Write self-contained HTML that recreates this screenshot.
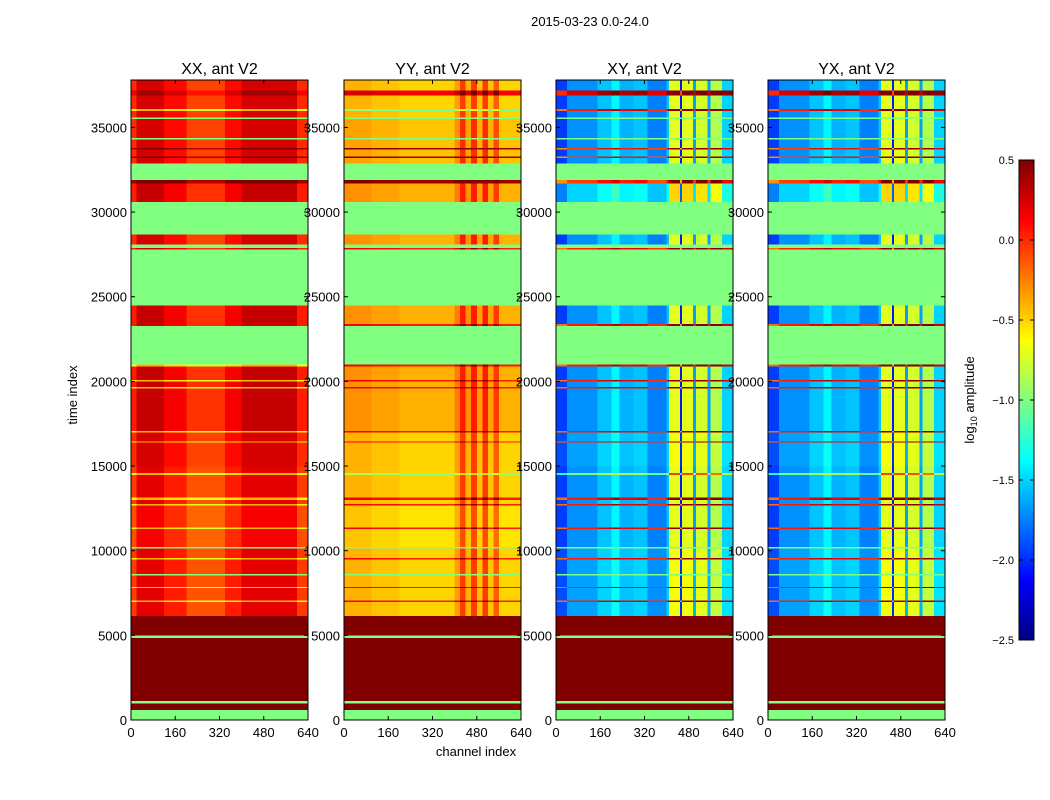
<!DOCTYPE html>
<html><head><meta charset="utf-8"><style>
body{margin:0;background:#fff;}
svg{display:block;font-family:"Liberation Sans",sans-serif;}
</style></head><body>
<svg id="fig" width="1050" height="800" viewBox="0 0 1050 800">
<rect width="1050" height="800" fill="#fff"/>
<text x="590" y="26" font-size="13" text-anchor="middle">2015-03-23 0.0-24.0</text>
<text x="476" y="756" font-size="13" text-anchor="middle">channel index</text>
<text transform="translate(77,395) rotate(-90)" font-size="13" text-anchor="middle">time index</text>
<text transform="translate(974,400) rotate(-90)" font-size="13" text-anchor="middle">log<tspan font-size="9" dy="3">10</tspan><tspan dy="-3"> amplitude</tspan></text>
<g id="panels"></g>
<g id="cbar"></g>
</svg>
<script>
const N = null;
const panelTitles = ["XX, ant V2","YY, ant V2","XY, ant V2","YX, ant V2"];
const xTicks = [0,160,320,480,640];
const yTicks = [0,5000,10000,15000,20000,25000,30000,35000];
const cbTicks = [0.5,0.0,-0.5,-1.0,-1.5,-2.0,-2.5];
const timeMax = 37800;
const chanMax = 640;
const bandStart = [0,600,1000,1150,4850,5000,6150,7000,7080,7800,7880,8550,8650,9500,9580,10150,10250,11300,11400,12700,12780,13000,13150,14500,14600,15000,16400,16480,17000,17100,19600,19700,20000,20100,20900,21000,23300,23400,24500,27800,27900,28100,28700,30600,31700,31900,32900,33200,33300,33700,33800,34300,34400,35500,35600,36000,36100,36900,37200];
const levelXX = [N,1,N,1,N,1, 0,-0.6,0,-0.6,0,N,0,-0.6,0,N, -0.05,-0.6,-0.05,-0.6,0,-0.6,0,-0.6,0,0.05, -0.6,0.05,-0.6,0.1,-0.6,0.1,-0.6,0.1,-0.6,N, 0.1,0.1,N,0.1,N,0.05,N,0.1,0.45,N, 0.05,0.45,0.05,0.45,0.05,N,0.05,N,0.05,-0.6, 0.05,0.2,0.05];
const levelYY = [N,1,N,1,N,1, -0.45,0.1,-0.45,0.1,-0.45,N,-0.45,0.1,-0.45,N, -0.5,0.1,-0.5,0.1,-0.45,0.1,-0.45,-0.9,-0.45,-0.45, 0.1,-0.45,0.1,-0.35,0.1,-0.35,0.1,-0.35,0.1,N, 0.1,-0.35,N,0.1,N,-0.35,N,-0.35,0.45,N, -0.4,0.45,-0.4,0.45,-0.4,N,-0.4,N,-0.45,-1.0, -0.45,0.2,-0.45];
const levelXY = [N,1,N,1,N,1, -1.6,0.1,-1.6,0.1,-1.6,N,-1.6,0.1,-1.6,N, -1.65,0.1,-1.65,0.1,-1.65,0.1,-1.65,-1.0,-1.65,-1.6, 0.1,-1.6,0.1,-1.65,0.1,-1.65,0.1,-1.65,0.1,N, 0.1,-1.65,N,0.1,N,-1.65,N,-1.45,0.0,N, -1.65,0.0,-1.65,0.0,-1.65,N,-1.65,N,-1.65,0.1, -1.65,0.3,-1.65];
const levelYX = [N,1,N,1,N,1, -1.6,0.1,-1.6,0.1,-1.6,N,-1.6,0.1,-1.6,N, -1.65,0.1,-1.65,0.1,-1.65,0.1,-1.65,-1.0,-1.65,-1.6, 0.1,-1.6,0.1,-1.65,0.1,-1.65,0.1,-1.65,0.1,N, 0.1,-1.65,N,0.1,N,-1.65,N,-1.45,0.0,N, -1.65,0.0,-1.65,0.0,-1.65,N,-1.65,N,-1.65,0.1, -1.65,0.3,-1.65];
const colEdgesXX = [0,20,120,200,340,400,600,640];
const colOffXX = [-0.05,0.2,0.05,-0.12,0.05,0.2,-0.05];
const colEdgesYY = [0,100,200,400,420,440,460,480,500,520,540,560,640];
const colOffYY = [0.05,0,-0.05,0.1,0.4,0.05,0.4,0,0.4,0,0.3,-0.05];
const colEdgesXY = [0,40,150,200,230,280,330,400,408,448,456,496,506,548,558,600,640];
const colOffXY = [-0.3,-0.05,0.1,0.25,0.05,0.1,-0.1,0.1,0.95,-0.4,0.95,0,0.9,0,0.8,0.15];
const colEdgesYX = [0,40,150,200,230,280,330,400,408,448,456,496,506,548,558,600,640];
const colOffYX = [-0.3,-0.05,0.1,0.25,0.05,0.1,-0.1,0.1,0.95,-0.4,0.95,0,0.9,0,0.8,0.15];

const levels=[levelXX,levelYY,levelXY,levelYX];
const cEdges=[colEdgesXX,colEdgesYY,colEdgesXY,colEdgesYX];
const cOffs=[colOffXX,colOffYY,colOffXY,colOffYX];
const panelX=[131,344,556,768], PW=177, PT=80, PB=720;
const NS="http://www.w3.org/2000/svg";
function cl(v){return Math.max(0,Math.min(1,v));}
function jet(v){
  if(v===null) return "rgb(128,255,128)";
  const x=cl((v+2.5)/3);
  const r=cl(1.5-Math.abs(4*x-3)), g=cl(1.5-Math.abs(4*x-2)), b=cl(1.5-Math.abs(4*x-1));
  return `rgb(${Math.round(r*255)},${Math.round(g*255)},${Math.round(b*255)})`;
}
function mk(tag,attrs,parent){const e=document.createElementNS(NS,tag);for(const k in attrs)e.setAttribute(k,attrs[k]);parent.appendChild(e);return e;}
const yScale=t=>PB-(t/timeMax)*(PB-PT);
const panelsG=document.getElementById("panels");
for(let p=0;p<4;p++){
  const x0=panelX[p];
  const xScale=c=>x0+(c/chanMax)*PW;
  const g=mk("g",{},panelsG);
  
  
  const cells=mk("g",{"shape-rendering":"crispEdges"},g);
  for(let i=0;i<bandStart.length;i++){
    const t0=bandStart[i], t1=i+1<bandStart.length?bandStart[i+1]:timeMax;
    const lv=levels[p][i];
    const ya=yScale(t1), yb=yScale(t0);
    const ed=cEdges[p], off=cOffs[p];
    if(lv===null||lv>=1){
      const r=mk("rect",{x:xScale(0),y:ya,width:xScale(chanMax)-xScale(0),height:yb-ya+0.3,fill:jet(lv)},cells);
      
      
      continue;
    }
    for(let s=0;s<off.length;s++){
      const xa=xScale(ed[s]), xb=xScale(ed[s+1]);
      const r=mk("rect",{x:xa,y:ya,width:xb-xa+0.3,height:yb-ya+0.3,fill:jet(lv+off[s])},cells);
      
      
    }
  }
  const fr=mk("rect",{x:x0,y:PT,width:PW,height:PB-PT,fill:"none",stroke:"#000","stroke-width":1},g);
  
  
  const tt=mk("text",{x:x0+PW/2,y:74,"font-size":16,"text-anchor":"middle"},g);
  tt.textContent=panelTitles[p];
  
  
  for(const xt of xTicks){
    const xx=xScale(xt);
    mk("line",{x1:xx,x2:xx,y1:PB,y2:PB-4,stroke:"#000"},g);
    mk("line",{x1:xx,x2:xx,y1:PT,y2:PT+4,stroke:"#000"},g);
    const l=mk("text",{x:xx,y:PB+17,"font-size":13,"text-anchor":"middle"},g);
    l.textContent=xt;
    
    
  }
  for(const yt of yTicks){
    const yy=yScale(yt);
    mk("line",{x1:x0,x2:x0+4,y1:yy,y2:yy,stroke:"#000"},g);
    mk("line",{x1:x0+PW,x2:x0+PW-4,y1:yy,y2:yy,stroke:"#000"},g);
    const l=mk("text",{x:x0-4,y:yy+5,"font-size":13,"text-anchor":"end"},g);
    l.textContent=yt;
    
    
  }
}
const cb=document.getElementById("cbar");


const cbX=1019,cbW=15,cbT=160,cbB=640,vMin=-2.5,vMax=0.5;
const cbScale=v=>cbB-(v-vMin)/(vMax-vMin)*(cbB-cbT);
const cg=mk("g",{"shape-rendering":"crispEdges"},cb);
for(let k=0;k<240;k++){
  const v=vMin+(k+0.5)/240*(vMax-vMin);
  const ya=cbB-(k+1)*(cbB-cbT)/240;
  mk("rect",{x:cbX,y:ya,width:cbW,height:(cbB-cbT)/240+0.5,fill:jet(v)},cg);
}
mk("rect",{x:cbX,y:cbT,width:cbW,height:cbB-cbT,fill:"none",stroke:"#000"},cb);
for(const v of cbTicks){
  const yy=cbScale(v);
  mk("line",{x1:cbX+cbW,x2:cbX+cbW-4,y1:yy,y2:yy,stroke:"#000"},cb);
  mk("line",{x1:cbX,x2:cbX+4,y1:yy,y2:yy,stroke:"#000"},cb);
  const l=mk("text",{x:cbX-5,y:yy+4,"font-size":11,"text-anchor":"end"},cb);
  l.textContent=(v<0?"\u2212":"")+Math.abs(v).toFixed(1);
  
  
}
</script>
</body></html>
